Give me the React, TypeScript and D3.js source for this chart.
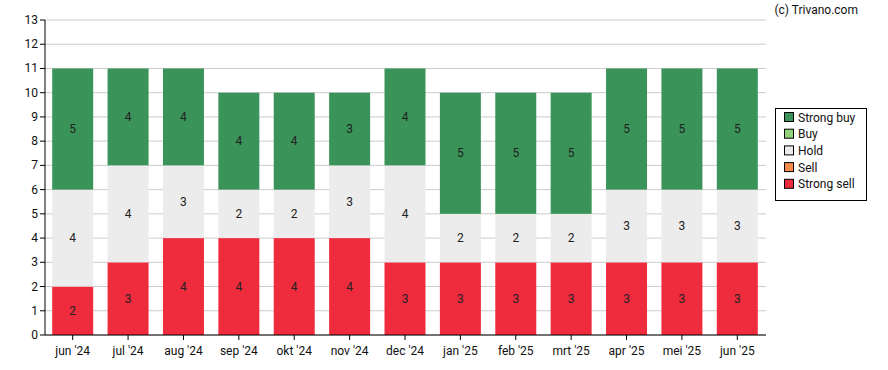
import React from "react";
import * as d3 from "d3";

const categories = ["jun '24","jul '24","aug '24","sep '24","okt '24","nov '24","dec '24","jan '25","feb '25","mrt '25","apr '25","mei '25","jun '25"];
const strongSell = [2,3,4,4,4,4,3,3,3,3,3,3,3];
const sell = [0,0,0,0,0,0,0,0,0,0,0,0,0];
const hold = [4,4,3,2,2,3,4,2,2,2,3,3,3];
const buy = [0,0,0,0,0,0,0,0,0,0,0,0,0];
const strongBuy = [5,4,4,4,4,3,4,5,5,5,5,5,5];
const yTicks = d3.range(0, 14);

const seriesNames = ["Strong sell","Sell","Hold","Buy","Strong buy"];
const seriesColors = ["#ee2c3e","#f58a4b","#ececec","#92d27c","#3a9459"];
const seriesData = [strongSell, sell, hold, buy, strongBuy];

export default function App() {
  const W = 888, H = 370;
  const left = 45, right = 765, top = 20, bottom = 335;
  const x = d3.scaleBand().domain(categories).range([left, right]).paddingInner(0.26).paddingOuter(0.13);
  const y = d3.scaleLinear().domain([0, 13]).range([bottom, top]);
  const font = "Roboto, sans-serif";

  const rects: any[] = [];
  categories.forEach((c, i) => {
    let base = 0;
    seriesData.forEach((s, k) => {
      const v = s[i];
      if (v > 0) {
        const y0 = y(base), y1 = y(base + v);
        rects.push(
          <g key={c + k}>
            <rect x={x(c)} y={y1} width={x.bandwidth()} height={y0 - y1} fill={seriesColors[k]} />
            <text x={x(c)! + x.bandwidth() / 2} y={(y0 + y1) / 2 + 4} textAnchor="middle" fontSize={12} fontFamily={font} fill="#222">{v}</text>
          </g>
        );
      }
      base += v;
    });
  });

  const legendOrder = [4, 3, 2, 1, 0];
  return (
    <svg width={W} height={H} style={{ position: "absolute", left: 0, top: 0 }}>
      <rect width={W} height={H} fill="#fff" />
      {yTicks.map(t => (
        <g key={t}>
          <line x1={left} x2={right + 1} y1={y(t)} y2={y(t)} stroke="#cccccc" strokeWidth={1} />
          <line x1={left - 5} x2={left} y1={y(t)} y2={y(t)} stroke="#000" />
          <text x={left - 7} y={y(t) + 4} textAnchor="end" fontSize={12} fontFamily={font} fill="#111">{t}</text>
        </g>
      ))}
      {rects}
      <line x1={left} x2={left} y1={top} y2={bottom} stroke="#000" />
      <line x1={left} x2={right + 1} y1={bottom} y2={bottom} stroke="#000" />
      {categories.map(c => (
        <g key={c}>
          <line x1={x(c)! + x.bandwidth() / 2} x2={x(c)! + x.bandwidth() / 2} y1={bottom} y2={bottom + 5} stroke="#000" />
          <text x={x(c)! + x.bandwidth() / 2} y={bottom + 20} textAnchor="middle" fontSize={12} fontFamily={font} fill="#111">{c}</text>
        </g>
      ))}
      <text x={858} y={14} textAnchor="end" fontSize={12} fontFamily={font} fill="#111">(c) Trivano.com</text>
      <rect x={775.5} y={108.5} width={91} height={92} fill="#fff" stroke="#000" />
      {legendOrder.map((k, j) => (
        <g key={k}>
          <rect x={784.5} y={112.5 + j * 16.7} width={9} height={9} fill={seriesColors[k]} stroke="#000" />
          <text x={798} y={121.5 + j * 16.7} fontSize={12} fontFamily={font} fill="#111">{seriesNames[k]}</text>
        </g>
      ))}
    </svg>
  );
}
